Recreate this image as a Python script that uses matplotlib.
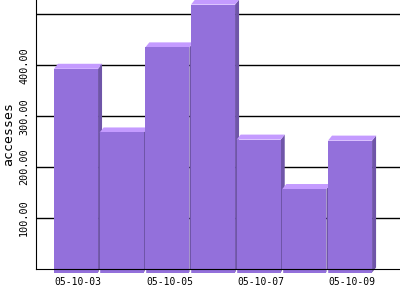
import matplotlib
matplotlib.use('Agg')
import matplotlib.pyplot as plt
from matplotlib.patches import Polygon, Rectangle

# data
dates = ['05-10-03', '05-10-04', '05-10-05', '05-10-06', '05-10-07', '05-10-08', '05-10-09']
accesses = [393, 268, 435, 519, 254, 157, 252]
shown_labels = ['05-10-03', '05-10-05', '05-10-07', '05-10-09']

FRONT = '#9370DB'
TOP = '#C49BFF'
SIDE = '#6F55A8'
FONT = 'DejaVu Sans Mono'

fig = plt.figure(figsize=(4, 3), dpi=100)
ax = fig.add_axes([36 / 400, 31 / 300, 364 / 400, 269 / 300])
ax.set_xlim(-0.876, 7.094)
ax.set_ylim(0, 528)
ax.set_axisbelow(False)

# 3d depth, in data units (about 4 px right, 5 px up)
dx = 4 / 45.67
dy = 5 / 269 * 528
width = 0.965

for i, v in enumerate(accesses):
    x0 = i - width / 2
    x1 = i + width / 2
    base = -dy * 0.7
    side = Polygon([(x1, base), (x1 + dx, base + dy), (x1 + dx, v + dy), (x1, v)],
                   closed=True, facecolor=SIDE, edgecolor='none', zorder=2, clip_on=False)
    lid = Polygon([(x0, v), (x0 + dx, v + dy), (x1 + dx, v + dy), (x1, v)],
                  closed=True, facecolor=TOP, edgecolor='none', zorder=2, clip_on=False)
    front = Rectangle((x0, base), width, v - base, facecolor=FRONT,
                      edgecolor='none', zorder=2, clip_on=False)
    ax.add_patch(side)
    ax.add_patch(lid)
    ax.add_patch(front)

# grid
for g in [100, 200, 300, 400, 500]:
    ax.axhline(g, color='black', lw=1, zorder=1)

ax.spines['top'].set_visible(False)
ax.spines['right'].set_visible(False)
ax.spines['left'].set_zorder(5)
ax.spines['bottom'].set_zorder(5)

ax.set_yticks([100, 200, 300, 400])
ax.set_yticklabels(['%.2f' % t for t in [100, 200, 300, 400]], rotation=90,
                   va='center', family=FONT, fontsize=7.3)
ax.tick_params(axis='y', length=0, pad=5)

ticks = [dates.index(d) + 0.05 for d in shown_labels]
ax.set_xticks(ticks)
ax.set_xticklabels(shown_labels, family=FONT, fontsize=7)
ax.tick_params(axis='x', which='major', length=0, pad=6)
ax.set_xticks([i + 0.5 for i in range(len(dates) - 1)], minor=True)
ax.tick_params(axis='x', which='minor', length=3, color='white', width=1)

ax.set_ylabel('accesses', family=FONT, fontsize=9.5)
ax.yaxis.set_label_coords(-0.058, 0.5)

fig.savefig('out.png', dpi=100)
